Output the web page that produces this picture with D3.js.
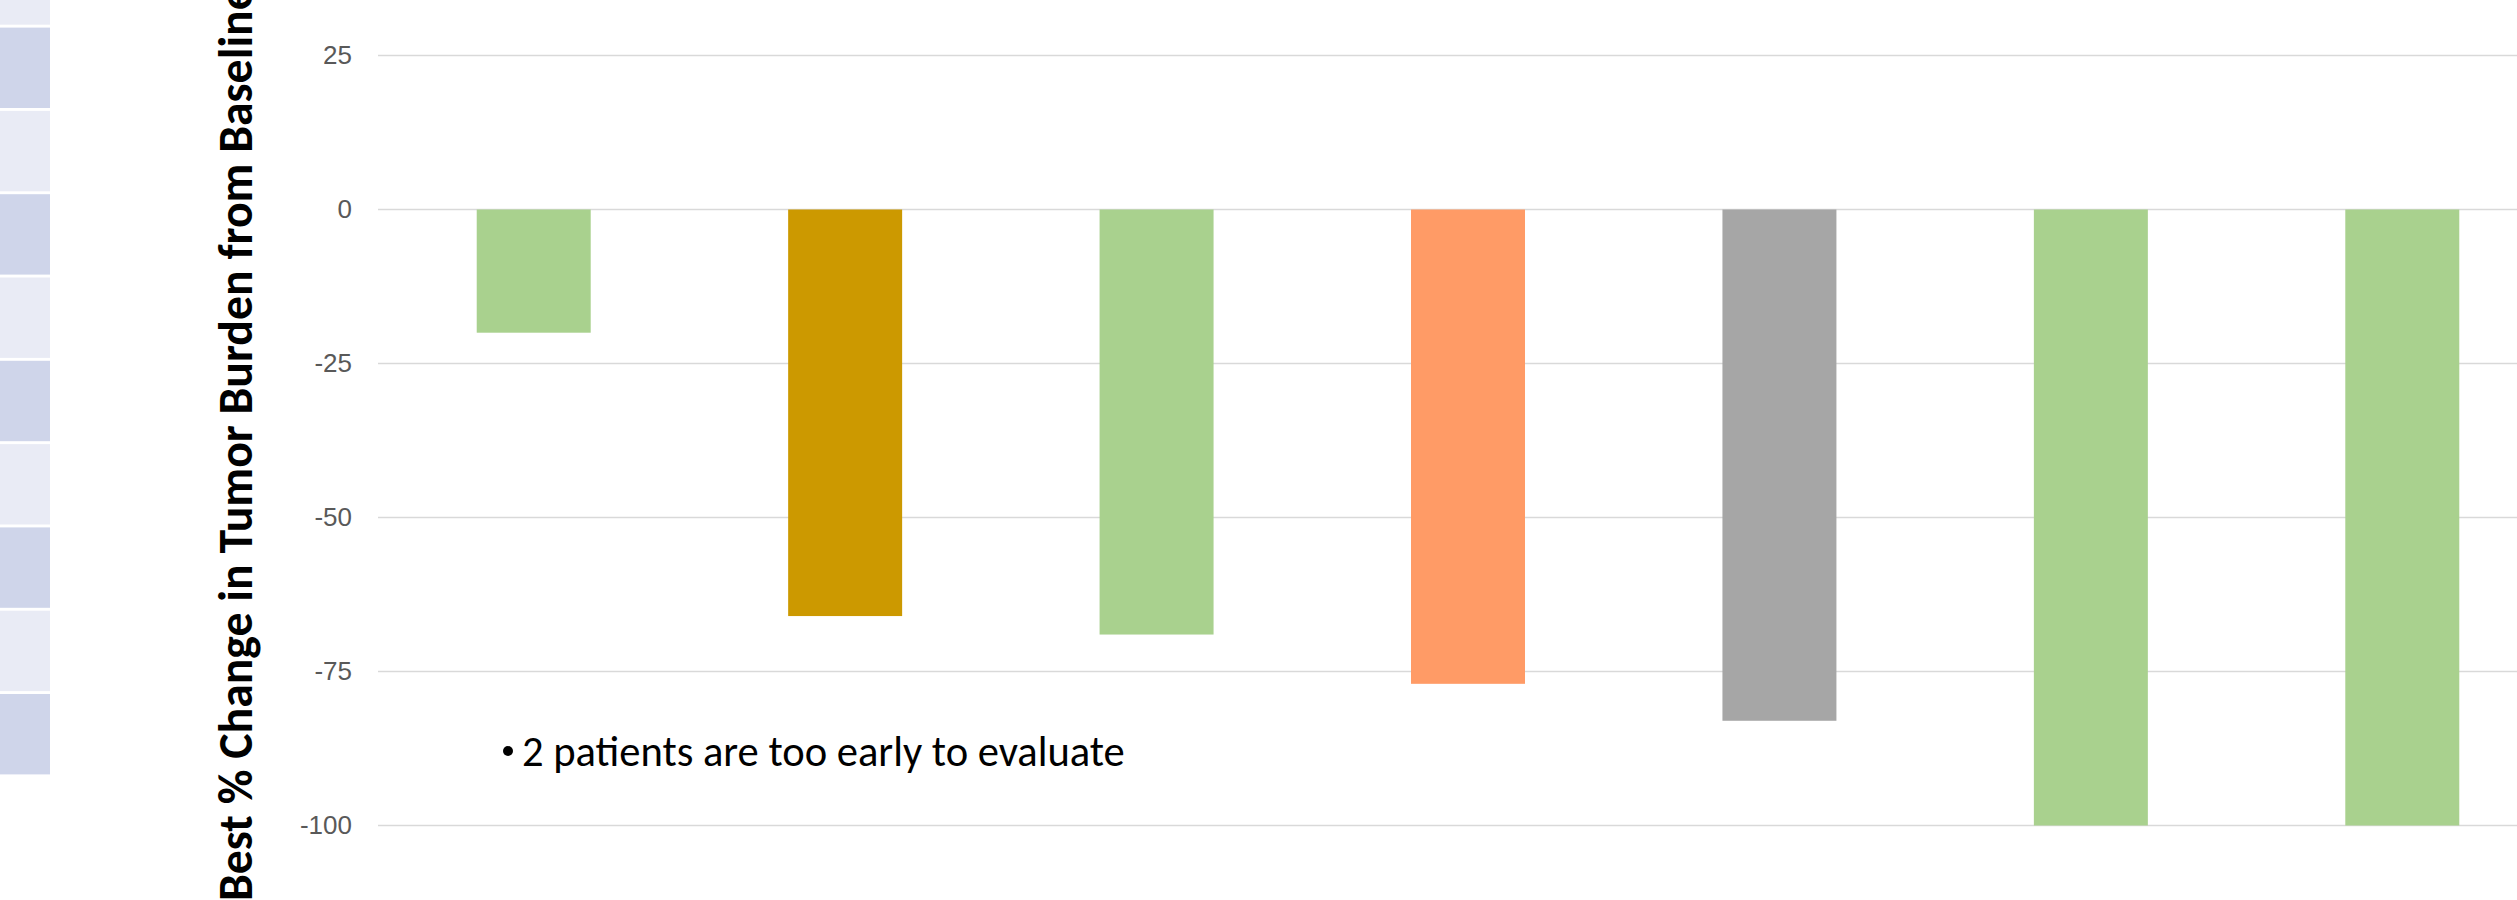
<!DOCTYPE html>
<html>
<head>
<meta charset="utf-8">
<script src="https://cdn.jsdelivr.net/npm/d3@7"></script>
<style>
  html, body { margin: 0; padding: 0; background: #ffffff; overflow: hidden; }
  svg { display: block; }
</style>
</head>
<body>
<svg id="chart" width="2517" height="900"></svg>
<script>
// Waterfall data: best percent change in tumor burden per patient
const patients = ["Patient 1", "Patient 2", "Patient 3", "Patient 4", "Patient 5", "Patient 6", "Patient 7"];
const bestChange = [-20, -66, -69, -77, -83, -100, -100];
const barColors = ["#A9D18E", "#CC9900", "#A9D18E", "#FF9B66", "#A6A6A6", "#A9D18E", "#A9D18E"];
const yTicks = [25, 0, -25, -50, -75, -100];
const yTickLabels = ["25", "0", "-25", "-50", "-75", "-100"];
const yTitle = "Best % Change in Tumor Burden from Baseline";
const note = "2 patients are too early to evaluate";

// Side table strip rows (alternating banded fill, light first)
const stripRows = d3.range(10);
const stripColors = ["#E9EBF5", "#CFD5EA"];

const narrow = "'Carlito', 'Liberation Sans Narrow', 'Open Sans', sans-serif";
const svg = d3.select("#chart");

// Banded strip at the left edge
const stripY = d3.scaleBand().domain(stripRows).range([-55.7, 774.4]).paddingInner(0.035).paddingOuter(0);
svg.append("g").selectAll("rect").data(stripRows).join("rect")
  .attr("x", 0).attr("width", 50)
  .attr("y", d => stripY(d)).attr("height", stripY.bandwidth())
  .attr("fill", (d, i) => stripColors[i % 2]);

// Scales
const x = d3.scaleBand().domain(patients).range([378, 2558]).paddingInner(0.634).paddingOuter(0.317);
const y = d3.scaleLinear().domain([-100, 25]).range([825.5, 55.5]);

// Gridlines
svg.append("g").selectAll("line").data(yTicks).join("line")
  .attr("x1", 378).attr("x2", 2517)
  .attr("y1", d => y(d)).attr("y2", d => y(d))
  .attr("stroke", "#D9D9D9").attr("stroke-width", 1.6);

// Y axis tick labels (plain hyphen for negatives)
const yAxis = d3.axisLeft(y).tickValues(yTicks).tickSize(0).tickPadding(0)
  .tickFormat((d, i) => yTickLabels[i]);
const gy = svg.append("g").attr("transform", "translate(352,0)").call(yAxis);
gy.select(".domain").remove();
gy.selectAll("text")
  .attr("fill", "#595959")
  .style("font-family", "'Liberation Sans', 'Open Sans', sans-serif")
  .style("font-size", "26px");

// Bars
svg.append("g").selectAll("rect").data(patients).join("rect")
  .attr("x", d => x(d))
  .attr("width", x.bandwidth())
  .attr("y", (d, i) => y(Math.max(0, bestChange[i])))
  .attr("height", (d, i) => Math.abs(y(bestChange[i]) - y(0)))
  .attr("fill", (d, i) => barColors[i]);

// Rotated y-axis title, sized to span its slot
const title = svg.append("text")
  .attr("transform", "translate(252,901) rotate(-90)")
  .attr("text-anchor", "start")
  .attr("fill", "#000000")
  .style("font-family", narrow)
  .style("font-weight", "bold")
  .style("font-size", "44px")
  .text(yTitle);
{
  const len = title.node().getComputedTextLength();
  const fs = Math.max(36, Math.min(50, 44 * 915 / len));
  title.style("font-size", fs + "px");
}

// Bulleted note inside the plot
const noteG = svg.append("g");
noteG.append("circle").attr("cx", 508).attr("cy", 751).attr("r", 5).attr("fill", "#000000");
const noteText = noteG.append("text")
  .attr("x", 522).attr("y", 766)
  .attr("fill", "#000000")
  .style("font-family", narrow)
  .style("font-size", "43px")
  .text(note);
{
  const len = noteText.node().getComputedTextLength();
  const fs = Math.max(34, Math.min(48, 43 * 603 / len));
  noteText.style("font-size", fs + "px");
}
</script>
</body>
</html>
